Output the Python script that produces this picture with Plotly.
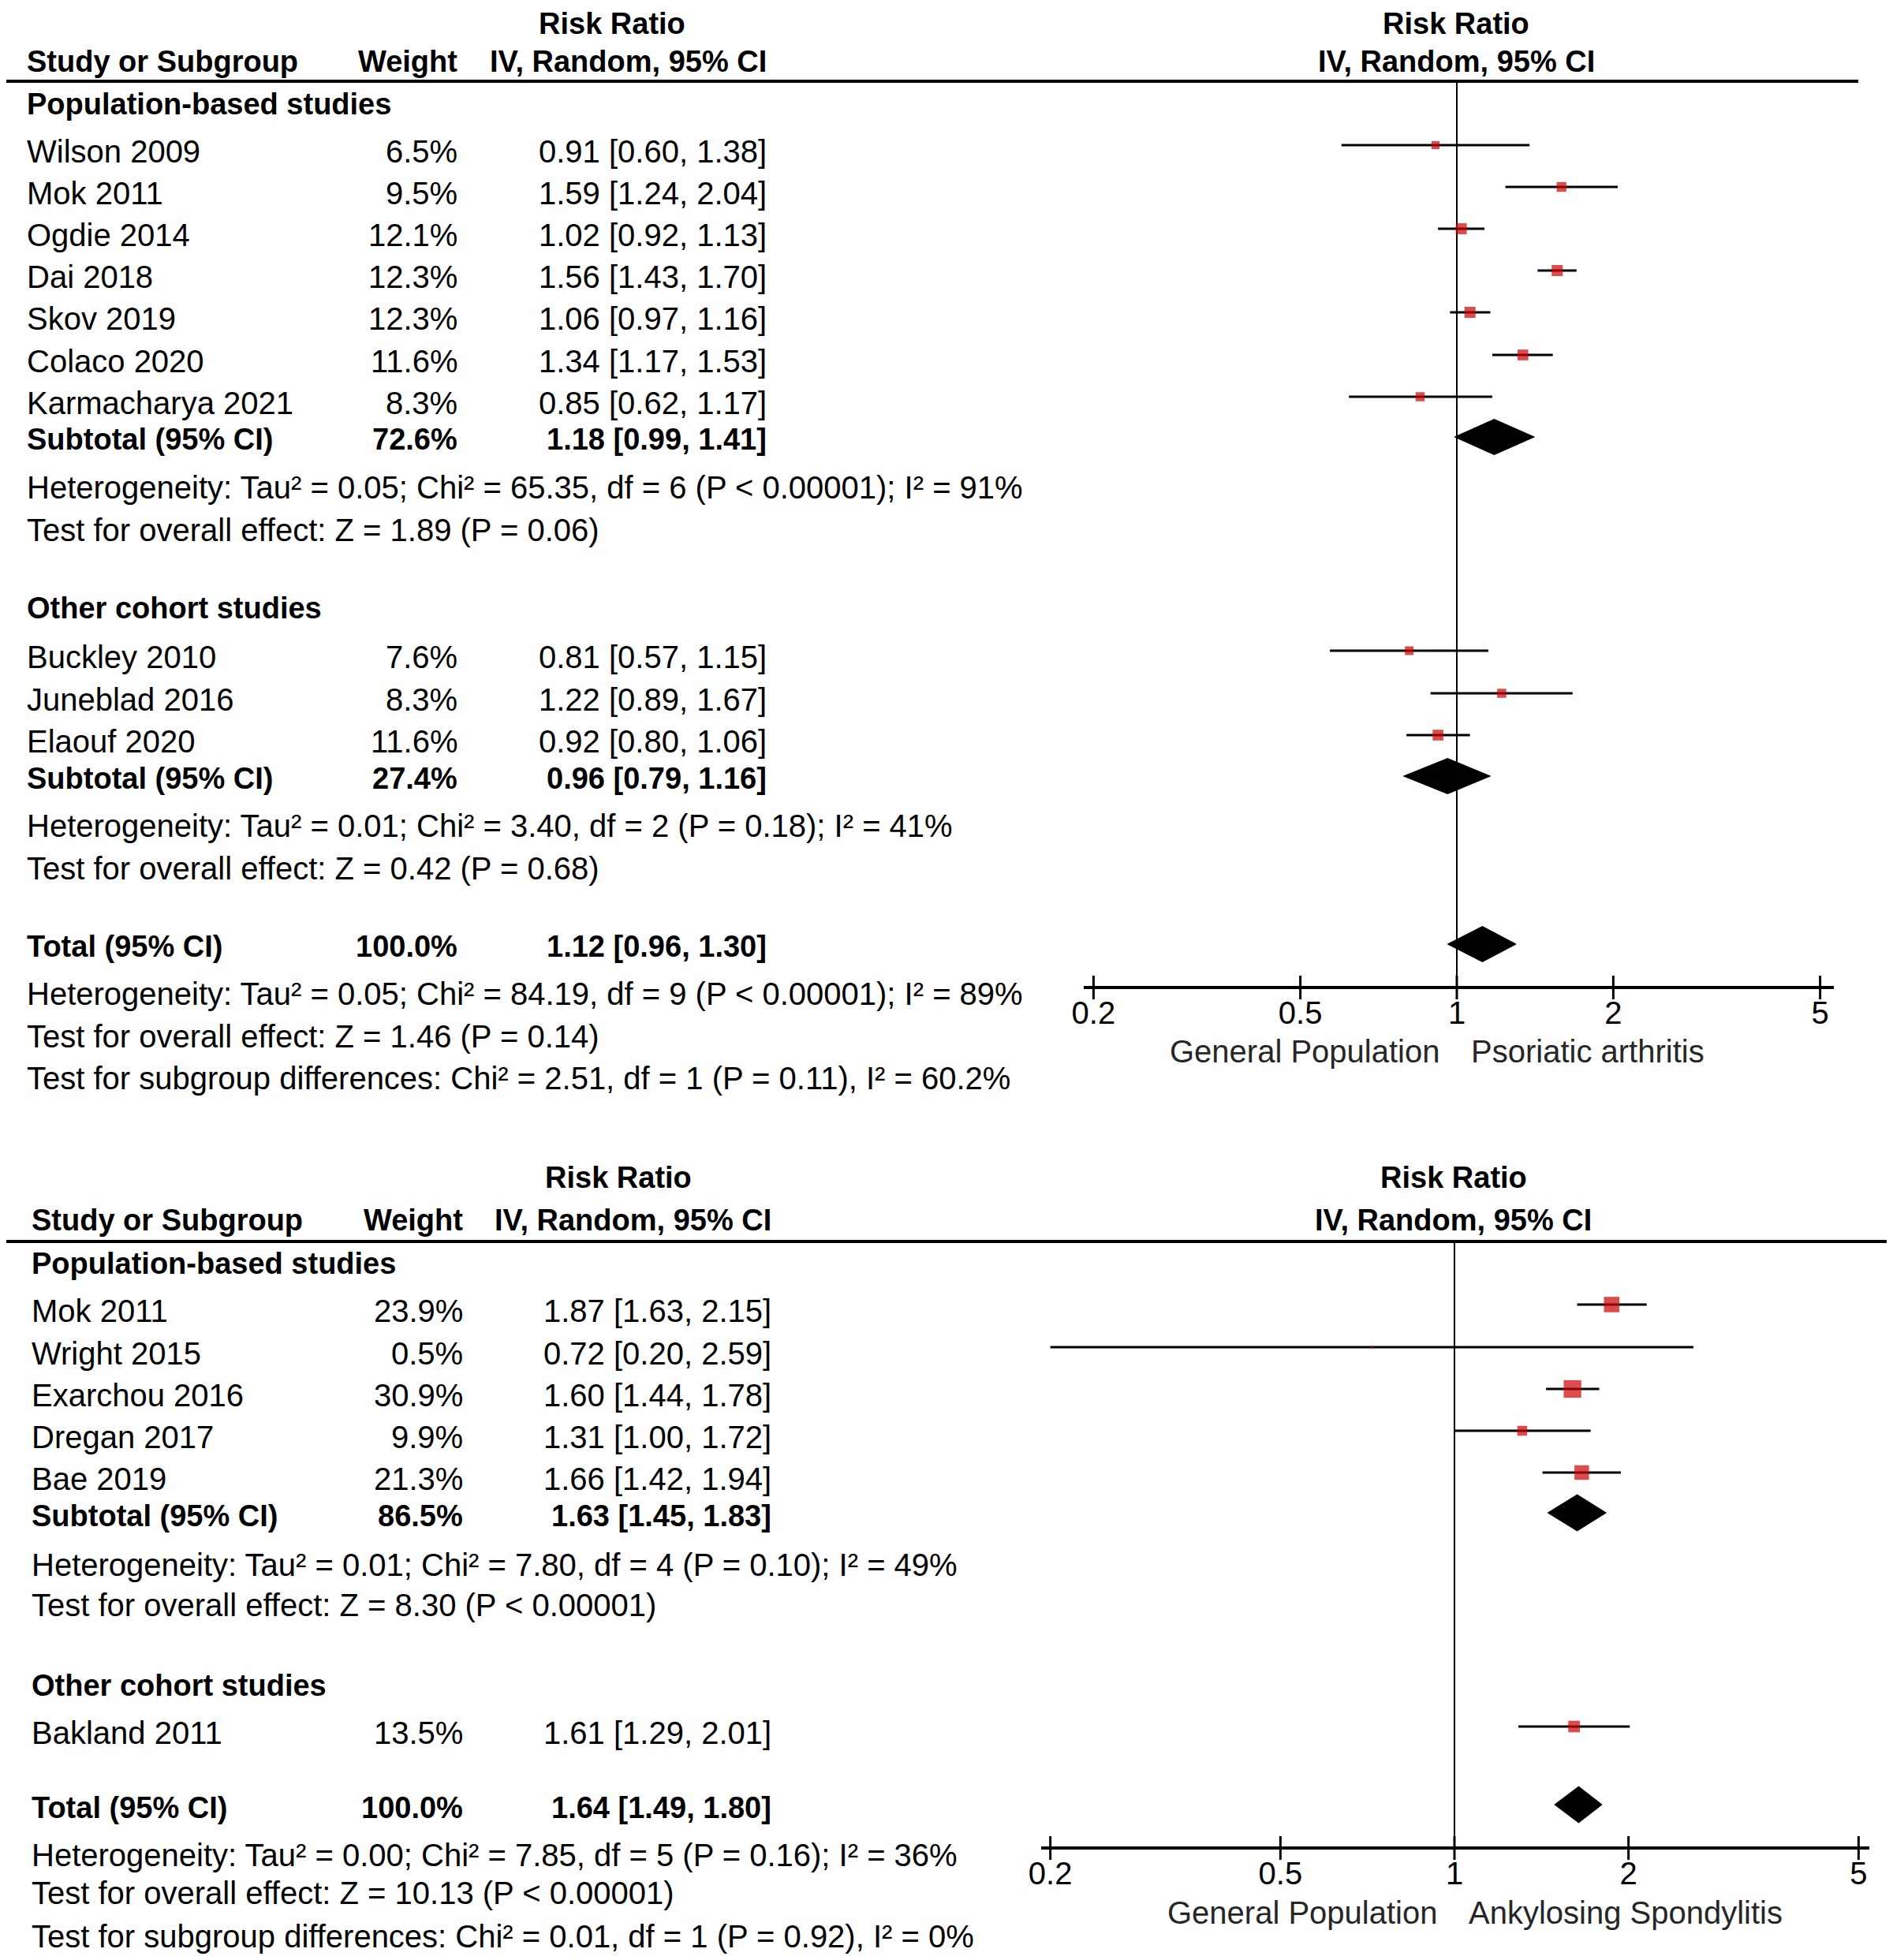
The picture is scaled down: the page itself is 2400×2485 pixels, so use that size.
import math
import plotly.graph_objects as go

W, H = 2400, 2485
OFF = 8  # page (body) margin of the html page, compensated below
FONT = "Liberation Sans, Arial, sans-serif"

# ---------------- DATA: Psoriatic arthritis ----------------
psa_pop_names = ["Wilson 2009", "Mok 2011", "Ogdie 2014", "Dai 2018", "Skov 2019", "Colaco 2020", "Karmacharya 2021"]
psa_pop_weight = [6.5, 9.5, 12.1, 12.3, 12.3, 11.6, 8.3]
psa_pop_rr = [0.91, 1.59, 1.02, 1.56, 1.06, 1.34, 0.85]
psa_pop_lo = [0.60, 1.24, 0.92, 1.43, 0.97, 1.17, 0.62]
psa_pop_hi = [1.38, 2.04, 1.13, 1.70, 1.16, 1.53, 1.17]
psa_pop_sub = [72.6, 1.18, 0.99, 1.41]
psa_pop_het = ["Heterogeneity: Tau² = 0.05; Chi² = 65.35, df = 6 (P < 0.00001); I² = 91%",
               "Test for overall effect: Z = 1.89 (P = 0.06)"]

psa_oth_names = ["Buckley 2010", "Juneblad 2016", "Elaouf 2020"]
psa_oth_weight = [7.6, 8.3, 11.6]
psa_oth_rr = [0.81, 1.22, 0.92]
psa_oth_lo = [0.57, 0.89, 0.80]
psa_oth_hi = [1.15, 1.67, 1.06]
psa_oth_sub = [27.4, 0.96, 0.79, 1.16]
psa_oth_het = ["Heterogeneity: Tau² = 0.01; Chi² = 3.40, df = 2 (P = 0.18); I² = 41%",
               "Test for overall effect: Z = 0.42 (P = 0.68)"]

psa_total = [100.0, 1.12, 0.96, 1.30]
psa_total_het = ["Heterogeneity: Tau² = 0.05; Chi² = 84.19, df = 9 (P < 0.00001); I² = 89%",
                 "Test for overall effect: Z = 1.46 (P = 0.14)",
                 "Test for subgroup differences: Chi² = 2.51, df = 1 (P = 0.11), I² = 60.2%"]
psa_labels = ["General Population", "Psoriatic arthritis"]

# ---------------- DATA: Ankylosing spondylitis ----------------
as_pop_names = ["Mok 2011", "Wright 2015", "Exarchou 2016", "Dregan 2017", "Bae 2019"]
as_pop_weight = [23.9, 0.5, 30.9, 9.9, 21.3]
as_pop_rr = [1.87, 0.72, 1.60, 1.31, 1.66]
as_pop_lo = [1.63, 0.20, 1.44, 1.00, 1.42]
as_pop_hi = [2.15, 2.59, 1.78, 1.72, 1.94]
as_pop_sub = [86.5, 1.63, 1.45, 1.83]
as_pop_het = ["Heterogeneity: Tau² = 0.01; Chi² = 7.80, df = 4 (P = 0.10); I² = 49%",
              "Test for overall effect: Z = 8.30 (P < 0.00001)"]

as_oth_names = ["Bakland 2011"]
as_oth_weight = [13.5]
as_oth_rr = [1.61]
as_oth_lo = [1.29]
as_oth_hi = [2.01]

as_total = [100.0, 1.64, 1.49, 1.80]
as_total_het = ["Heterogeneity: Tau² = 0.00; Chi² = 7.85, df = 5 (P = 0.16); I² = 36%",
                "Test for overall effect: Z = 10.13 (P < 0.00001)",
                "Test for subgroup differences: Chi² = 0.01, df = 1 (P = 0.92), I² = 0%"]
as_labels = ["General Population", "Ankylosing Spondylitis"]

group_names = ["Population-based studies", "Other cohort studies"]
tick_vals = [0.2, 0.5, 1, 2, 5]
tick_text = ["0.2", "0.5", "1", "2", "5"]

# ---------------- LAYOUT (screen pixel positions) ----------------
FS = 40      # regular font size
FSB = 38     # bold font size
RED = "#cc0000"

annotations = []
shapes = []
traces = []


def ptx(x):
    return (x - OFF) / W


def pty(y):
    return 1 - (y - OFF) / H


def txt(x, y, s, anchor="left", bold=False, color="#000000", size=None):
    if size is None:
        size = FSB if bold else FS
    annotations.append(dict(
        x=ptx(x), y=pty(y), xref="paper", yref="paper",
        text=("<b>%s</b>" % s) if bold else s,
        showarrow=False, xanchor=anchor, yanchor="middle",
        font=dict(family=FONT, size=size, color=color),
        borderpad=0,
    ))


def fmt_ci(v):
    return "%.2f [%.2f, %.2f]" % (v[0], v[1], v[2])


def panel(cfg, axis_id):
    xa = "x" if axis_id == 1 else "x%d" % axis_id
    ya = "y" if axis_id == 1 else "y%d" % axis_id
    nx, wx, cx = cfg["name_x"], cfg["weight_x"], cfg["ci_x"]
    # headers
    txt(cfg["rr_hdr_x"], cfg["title_y"], "Risk Ratio", "center", True)
    txt(cfg["plot_hdr_x"], cfg["title_y"], "Risk Ratio", "center", True)
    txt(nx, cfg["hdr_y"], "Study or Subgroup", "left", True)
    txt(wx, cfg["hdr_y"], "Weight", "right", True)
    txt(cx, cfg["hdr_y"], "IV, Random, 95% CI", "right", True)
    txt(cfg["plot_hdr_x"], cfg["hdr_y"], "IV, Random, 95% CI", "center", True)
    shapes.append(dict(type="line", xref="paper", yref="paper",
                       x0=ptx(cfg["rule_x0"]), x1=ptx(cfg["rule_x1"]),
                       y0=pty(cfg["rule_y"]), y1=pty(cfg["rule_y"]),
                       line=dict(color="#000000", width=4)))

    ci_x, ci_y, mk_x, mk_y, mk_s = [], [], [], [], []
    dia_x, dia_y = [], []
    hd = cfg["dia_h"] / 2.0

    def diamond(vals, yc):
        dia_x.extend([vals[2], vals[1], vals[3], vals[1], vals[2], None])
        dia_y.extend([yc, yc - hd, yc, yc + hd, yc, None])

    for g in cfg["groups"]:
        txt(nx, g["head_y"], g["title"], "left", True)
        for i, n in enumerate(g["names"]):
            y = g["rows"][i]
            txt(nx, y, n)
            txt(wx, y, "%.1f%%" % g["weight"][i], "right")
            txt(cx, y, "%.2f [%.2f, %.2f]" % (g["rr"][i], g["lo"][i], g["hi"][i]), "right")
            ym = y + cfg["mk_off"]
            ci_x.extend([g["lo"][i], g["hi"][i], None])
            ci_y.extend([ym, ym, None])
            mk_x.append(g["rr"][i])
            mk_y.append(ym)
            mk_s.append(4.0 * math.sqrt(g["weight"][i]))
        if g.get("sub") is not None:
            sy = g["sub_y"]
            txt(nx, sy, "Subtotal (95% CI)", "left", True)
            txt(wx, sy, "%.1f%%" % g["sub"][0], "right", True)
            txt(cx, sy, fmt_ci(g["sub"][1:]), "right", True)
            diamond(g["sub"], sy + cfg["dia_off"])
            for k, line in enumerate(g["het"]):
                txt(nx, g["het_y"][k], line)
    ty = cfg["total_y"]
    txt(nx, ty, "Total (95% CI)", "left", True)
    txt(wx, ty, "%.1f%%" % cfg["total"][0], "right", True)
    txt(cx, ty, fmt_ci(cfg["total"][1:]), "right", True)
    diamond(cfg["total"], ty + cfg["dia_off"])
    for k, line in enumerate(cfg["total_het"]):
        txt(nx, cfg["total_het_y"][k], line)

    # x-axis side labels
    txt(cfg["lab_l_x"], cfg["lab_y"], cfg["labels"][0], "right", color="#262626")
    txt(cfg["lab_r_x"], cfg["lab_y"], cfg["labels"][1], "left", color="#262626")

    # line of no effect
    shapes.append(dict(type="line", xref=xa, yref=ya, x0=1, x1=1,
                       y0=cfg["rule_y"], y1=cfg["axis_y"],
                       line=dict(color="#000000", width=2), layer="below"))
    # ticks crossing the axis line
    for v in tick_vals:
        shapes.append(dict(type="line", xref=xa, yref=ya, x0=v, x1=v,
                           y0=cfg["axis_y"] - 15, y1=cfg["axis_y"] + 15,
                           line=dict(color="#000000", width=3)))

    traces.append(go.Scatter(x=ci_x, y=ci_y, mode="lines", xaxis=xa, yaxis=ya,
                             line=dict(color="#000000", width=3), hoverinfo="skip",
                             showlegend=False))
    traces.append(go.Scatter(x=mk_x, y=mk_y, mode="markers", xaxis=xa, yaxis=ya,
                             marker=dict(symbol="square", size=mk_s, color=RED,
                                         line=dict(width=0)),
                             showlegend=False))
    traces.append(go.Scatter(x=dia_x, y=dia_y, mode="lines", fill="toself",
                             fillcolor="#000000", xaxis=xa, yaxis=ya,
                             line=dict(color="#000000", width=1), showlegend=False))


top_cfg = dict(
    name_x=33, weight_x=581, ci_x=973, rr_hdr_x=776, plot_hdr_x=1846,
    title_y=30, hdr_y=78, rule_y=103, rule_x0=0, rule_x1=2356,
    mk_off=-8, dia_off=-3, dia_h=45,
    groups=[
        dict(title=group_names[0], head_y=132, names=psa_pop_names, weight=psa_pop_weight,
             rr=psa_pop_rr, lo=psa_pop_lo, hi=psa_pop_hi,
             rows=[192, 245, 298, 351, 404, 458, 511],
             sub=psa_pop_sub, sub_y=557, het=psa_pop_het, het_y=[618, 672]),
        dict(title=group_names[1], head_y=771, names=psa_oth_names, weight=psa_oth_weight,
             rr=psa_oth_rr, lo=psa_oth_lo, hi=psa_oth_hi,
             rows=[833, 887, 940],
             sub=psa_oth_sub, sub_y=987, het=psa_oth_het, het_y=[1047, 1101]),
    ],
    total=psa_total, total_y=1200, total_het=psa_total_het, total_het_y=[1260, 1314, 1367],
    labels=psa_labels, lab_l_x=1826, lab_r_x=1864, lab_y=1333,
    axis_y=1252, one_px=1847, decade_px=659, ax_x0=1374, ax_x1=2325,
)

bot_cfg = dict(
    name_x=39, weight_x=588, ci_x=979, rr_hdr_x=784, plot_hdr_x=1843,
    title_y=1493, hdr_y=1547, rule_y=1574, rule_x0=7, rule_x1=2408,
    mk_off=-8, dia_off=-4, dia_h=46,
    groups=[
        dict(title=group_names[0], head_y=1602, names=as_pop_names, weight=as_pop_weight,
             rr=as_pop_rr, lo=as_pop_lo, hi=as_pop_hi,
             rows=[1662, 1716, 1769, 1822, 1875],
             sub=as_pop_sub, sub_y=1922, het=as_pop_het, het_y=[1984, 2035]),
        dict(title=group_names[1], head_y=2137, names=as_oth_names, weight=as_oth_weight,
             rr=as_oth_rr, lo=as_oth_lo, hi=as_oth_hi,
             rows=[2197], sub=None),
    ],
    total=as_total, total_y=2292, total_het=as_total_het, total_het_y=[2352, 2400, 2455],
    labels=as_labels, lab_l_x=1823, lab_r_x=1861, lab_y=2425,
    axis_y=2343, one_px=1844, decade_px=733, ax_x0=1320, ax_x1=2370,
)

panel(top_cfg, 1)
panel(bot_cfg, 2)

fig = go.Figure(traces)


def xaxis_cfg(cfg):
    lo = (cfg["ax_x0"] - cfg["one_px"]) / cfg["decade_px"]
    hi = (cfg["ax_x1"] - cfg["one_px"]) / cfg["decade_px"]
    return dict(type="log", range=[lo, hi],
                domain=[ptx(cfg["ax_x0"]), ptx(cfg["ax_x1"])],
                anchor="free", position=pty(cfg["axis_y"]),
                showline=True, linecolor="#000000", linewidth=4,
                ticks="", ticklabelstandoff=-4,
                tickvals=tick_vals, ticktext=tick_text,
                tickfont=dict(family=FONT, size=FS, color="#000000"),
                showgrid=False, zeroline=False, fixedrange=True)


# y data values are screen pixels from the top of the page
yax = dict(range=[H + OFF, OFF], domain=[0, 1], visible=False, showgrid=False,
           zeroline=False, fixedrange=True)

fig.update_layout(
    width=W, height=H,
    margin=dict(l=0, r=0, t=0, b=0, pad=0, autoexpand=False),
    paper_bgcolor="#ffffff", plot_bgcolor="rgba(0,0,0,0)",
    showlegend=False,
    xaxis=xaxis_cfg(top_cfg),
    xaxis2=xaxis_cfg(bot_cfg),
    yaxis=dict(yax),
    yaxis2=dict(yax, overlaying="y"),
    annotations=annotations,
    shapes=shapes,
)

fig.write_html("out.html")
